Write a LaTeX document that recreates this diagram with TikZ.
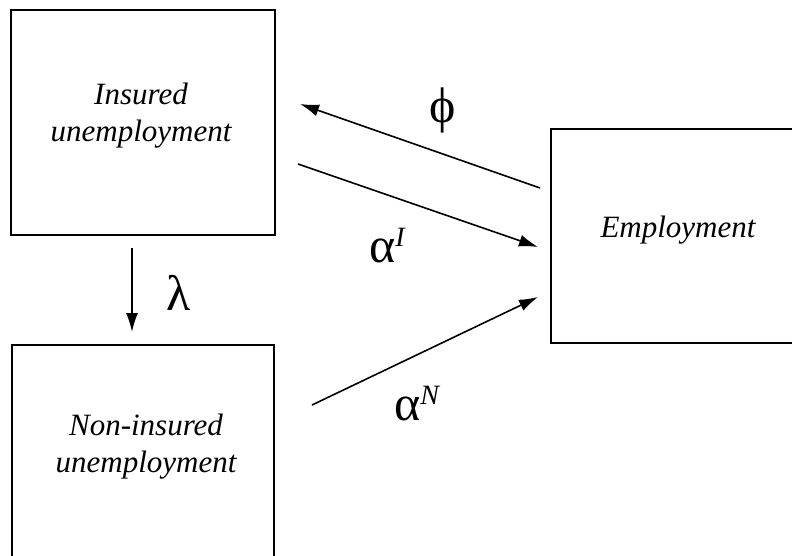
\documentclass[tikz,border=0pt]{standalone}
\usepackage{fontspec}
\setmainfont{Liberation Serif}
\usetikzlibrary{arrows.meta}
\begin{document}
\begin{tikzpicture}[x=1pt,y=1pt,
  statebox/.style={draw=black, line width=2pt, rectangle, inner sep=0pt},
  boxtext/.style={inner sep=0pt, align=center, font=\fontsize{31}{37}\selectfont\itshape},
  flow/.style={line width=1.6pt, -{Latex[length=19pt,width=12pt]}},
  greek/.style={inner sep=0pt, font=\fontsize{50}{50}\selectfont}]
\useasboundingbox (0,0) rectangle (792,555);
\clip (0,0) rectangle (792,555);
\fill[white] (0,0) rectangle (792,555);
\node[statebox, minimum width=264pt, minimum height=225pt] (ins) at (143,432.5) {};
\node[statebox, minimum width=262pt, minimum height=220pt] (non) at (143,100) {};
\node[statebox, minimum width=254pt, minimum height=214pt] (emp) at (678,319) {};
\node[boxtext] (insT) at ([xshift=-2pt,yshift=7pt]ins.center) {Insured\\unemployment};
\node[boxtext] (nonT) at ([xshift=3pt,yshift=8pt]non.center) {Non-insured\\unemployment};
\node[boxtext] (empT) at ([yshift=6pt]emp.center) {Employment};
\coordinate (phiS) at (540,367);
\coordinate (phiE) at (300,451);
\coordinate (aiS) at (298,391);
\coordinate (aiE) at (538,308);
\coordinate (anS) at (312,150);
\coordinate (anE) at (538,258);
\coordinate (lamS) at (132,307);
\coordinate (lamE) at (132,223);
\draw[flow] (phiS) -- (phiE);
\draw[flow] (aiS) -- (aiE);
\draw[flow] (anS) -- (anE);
\draw[flow] (lamS) -- (lamE);
\node[greek] (phi) at (443,445) {ϕ};
\node[greek, anchor=base west] (ai) at (369,292) {α\raisebox{16pt}{\fontsize{28}{28}\selectfont\itshape I}};
\node[greek, anchor=base west] (lam) at (166,245) {λ};
\node[greek, anchor=base west] (an) at (394,135) {α\raisebox{16pt}{\fontsize{28}{28}\selectfont\itshape N}};
\end{tikzpicture}
\end{document}
